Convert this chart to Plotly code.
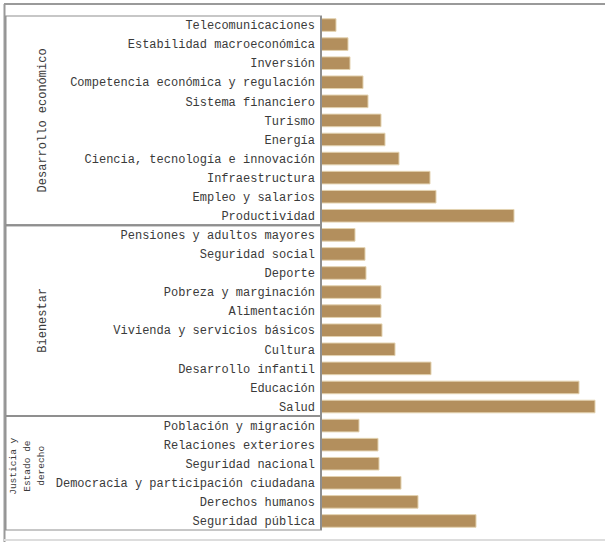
import plotly.graph_objects as go

# Data (arbitrary units)
grupo1 = ["Telecomunicaciones", "Estabilidad macroeconómica", "Inversión",
          "Competencia económica y regulación", "Sistema financiero", "Turismo",
          "Energía", "Ciencia, tecnología e innovación", "Infraestructura",
          "Empleo y salarios", "Productividad"]
valores1 = [15, 27, 29, 42, 47, 60, 64, 78, 109, 115, 193]

grupo2 = ["Pensiones y adultos mayores", "Seguridad social", "Deporte",
          "Pobreza y marginación", "Alimentación", "Vivienda y servicios básicos",
          "Cultura", "Desarrollo infantil", "Educación", "Salud"]
valores2 = [34, 44, 45, 60, 60, 61, 74, 110, 258, 274]

grupo3 = ["Población y migración", "Relaciones exteriores", "Seguridad nacional",
          "Democracia y participación ciudadana", "Derechos humanos", "Seguridad pública"]
valores3 = [38, 57, 58, 80, 97, 155]

grupos = [["Desarrollo económico"], ["Bienestar"], ["Justicia y", "Estado de", "derecho"]]

categorias = grupo1 + grupo2 + grupo3
valores = valores1 + valores2 + valores3
n = len(categorias)

W, H = 605, 542
FONT = "Liberation Mono"
TXT = "#3a3a3a"

fig = go.Figure(go.Bar(
    x=valores, y=categorias, orientation="h",
    marker=dict(color="#B38F5D", line=dict(color="#E3D2B0", width=1)),
    width=0.66, hoverinfo="skip",
))

fig.update_layout(
    width=W, height=H,
    margin=dict(l=0, r=0, t=0, b=0),
    paper_bgcolor="white", plot_bgcolor="white",
    showlegend=False,
    font=dict(family=FONT, size=12, color=TXT),
    xaxis=dict(domain=[321 / W, 1], range=[0, 284], visible=False),
    yaxis=dict(domain=[1 - 530.5 / H, 1 - 15.5 / H], range=[n - 0.5, -0.5],
               categoryorder="array", categoryarray=categorias,
               showline=False, showgrid=False, zeroline=False,
               ticks="", ticklabelstandoff=5,
               tickfont=dict(family=FONT, size=12, color=TXT)),
)

# group boxes and labels
sizes = [len(grupo1), len(grupo2), len(grupo3)]
start = 0
for i, (lines, s) in enumerate(zip(grupos, sizes)):
    y0 = start - 0.5
    y1 = start + s - 0.5
    fig.add_shape(type="rect", xref="paper", yref="y",
                  x0=5.5 / W, x1=321 / W, y0=y0, y1=y1,
                  line=dict(color="#8F8F8F", width=2), layer="above")
    if len(lines) == 1:
        fig.add_annotation(xref="paper", yref="y", x=34 / W, y=(y0 + y1) / 2,
                           text=lines[0], textangle=-90, showarrow=False,
                           font=dict(family=FONT, size=12, color=TXT))
    else:
        for k, t in enumerate(lines):
            fig.add_annotation(xref="paper", yref="y", x=(6 + 14 * k) / W,
                               y=(y0 + y1) / 2, yshift=7,
                               text=t, textangle=-90, showarrow=False,
                               font=dict(family=FONT, size=9.5, color=TXT))
    start += s

# outer frame lines
fig.add_shape(type="line", xref="paper", yref="paper", x0=4 / W, x1=1,
              y0=1 - 4 / H, y1=1 - 4 / H, line=dict(color="#9A9A9A", width=2))
fig.add_shape(type="line", xref="paper", yref="paper", x0=4.5 / W, x1=4.5 / W,
              y0=0, y1=1 - 4 / H, line=dict(color="#9A9A9A", width=2))
fig.add_shape(type="line", xref="paper", yref="paper", x0=4 / W, x1=1,
              y0=1 - 540 / H, y1=1 - 540 / H, line=dict(color="#DDDDDD", width=2))

fig.write_html("out.html", config={"displayModeBar": False},
               post_script="document.body.style.margin='0px';")
